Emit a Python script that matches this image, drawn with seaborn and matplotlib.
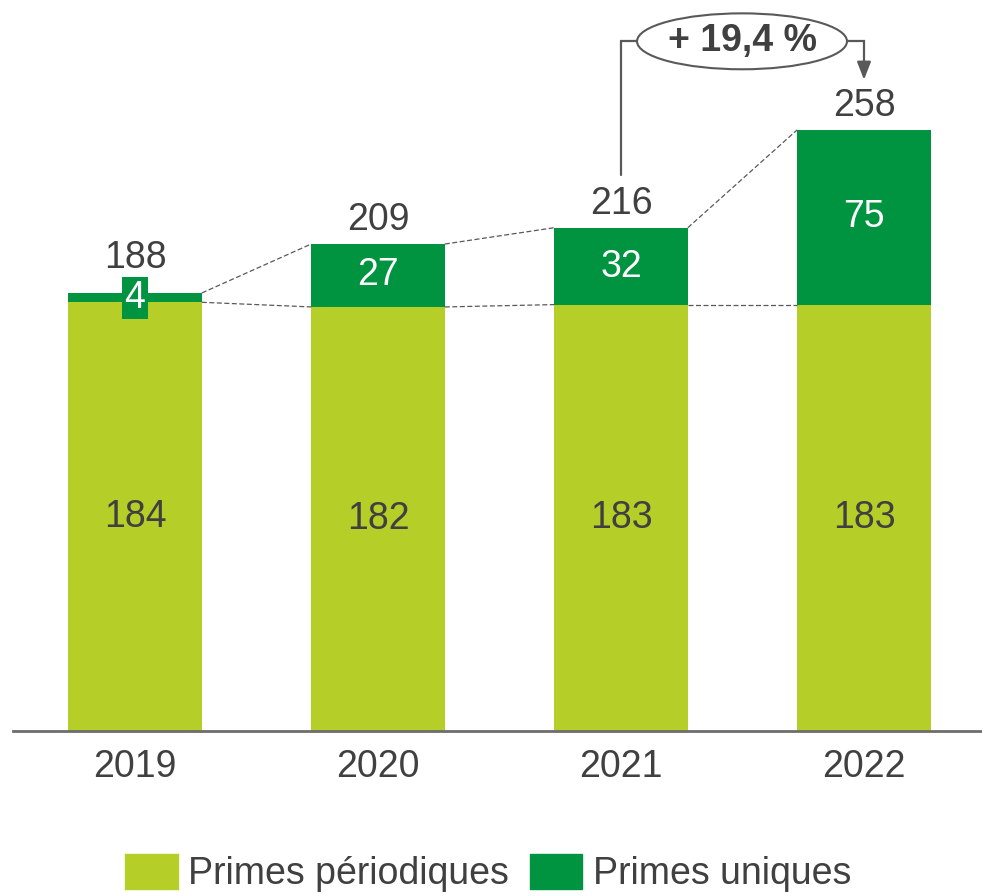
import pandas as pd
import matplotlib.pyplot as plt
import seaborn as sns
from matplotlib.patches import Ellipse, Patch

# data
years = ['2019', '2020', '2021', '2022']
periodiques = [184, 182, 183, 183]
uniques = [4, 27, 32, 75]
totals = [188, 209, 216, 258]
growth_label = '+ 19,4 %'

df = pd.DataFrame({'year': years, 'periodiques': periodiques,
                   'uniques': uniques, 'total': totals})

light = '#B5CE28'
dark = '#009340'
txt = '#404040'
line_c = '#595959'
fs = 27

sns.set_theme(style='white')
plt.rcParams['font.family'] = ['Liberation Sans', 'DejaVu Sans']

fig = plt.figure(figsize=(9.82, 8.96), dpi=100)
ax = fig.add_axes([13.5 / 982, 165 / 896, (982 - 13.5) / 982, 731 / 896])

bw = 0.55
# stacked bars: total in dark green, periodic part drawn over it
sns.barplot(data=df, x='year', y='total', color=dark, saturation=1,
            width=bw, ax=ax, linewidth=0)
sns.barplot(data=df, x='year', y='periodiques', color=light, saturation=1,
            width=bw, ax=ax, linewidth=0)

ax.set_xlim(-0.5, (982 - 135) / 243)
ax.set_ylim(0, 731 / 2.33)

# labels
for i, row in df.iterrows():
    ax.text(i, row['periodiques'] / 2, str(row['periodiques']), ha='center',
            va='center', fontsize=fs, color=txt)
    mid = row['periodiques'] + row['uniques'] / 2
    if row['uniques'] < 10:
        ax.text(i, mid, str(row['uniques']), ha='center', va='center',
                fontsize=fs, color='white',
                bbox=dict(boxstyle='square,pad=0.08', fc=dark, ec='none'))
        off = 15.2
    else:
        ax.text(i, mid, str(row['uniques']), ha='center', va='center',
                fontsize=fs, color='white')
        off = 10.2
    ax.text(i, row['total'] + off, str(row['total']), ha='center',
            va='center', fontsize=fs, color=txt)

# dashed connectors between bars
for i in range(len(df) - 1):
    for col in ['total', 'periodiques']:
        ax.plot([i + bw / 2, i + 1 - bw / 2], [df[col][i], df[col][i + 1]],
                ls=(0, (4, 2)), lw=0.9, color=line_c)

# growth annotation 2021 -> 2022
y_top = 296
ex = 2.498
ew, eh = 0.864, 24
ax.plot([2, 2, ex - ew / 2], [238.5, y_top, y_top], color=line_c, lw=1.6,
        solid_joinstyle='miter')
ax.plot([ex + ew / 2, 3, 3], [y_top, y_top, 286], color=line_c, lw=1.6,
        solid_joinstyle='miter')
ax.annotate('', xy=(3, 279.5), xytext=(3, 287.5),
            arrowprops=dict(arrowstyle='-|>,head_width=0.35,head_length=0.9',
                            color=line_c, lw=1.6, shrinkA=0, shrinkB=0))
ax.add_patch(Ellipse((ex, y_top), ew, eh, fc='white', ec=line_c, lw=1.5,
                     zorder=5))
ax.text(ex, y_top, growth_label, ha='center', va='center', fontsize=fs,
        fontweight='bold', color=txt, zorder=6)

sns.despine(ax=ax, left=True)
ax.spines['bottom'].set_color('#6d6d6d')
ax.spines['bottom'].set_linewidth(2)
ax.set_yticks([])
ax.set_xlabel('')
ax.set_ylabel('')
ax.tick_params(axis='x', length=0, pad=13, labelsize=fs, labelcolor=txt)

handles = [Patch(color=light, label='Primes périodiques'),
           Patch(color=dark, label='Primes uniques')]
fig.legend(handles=handles, loc='center', bbox_to_anchor=(488 / 982, 1 - 873 / 896),
           ncol=2, frameon=False, fontsize=fs, handlelength=1.41,
           handleheight=1.07, handletextpad=0.28, columnspacing=0.55,
           labelcolor=txt)

fig.savefig('out.png', dpi=100)
